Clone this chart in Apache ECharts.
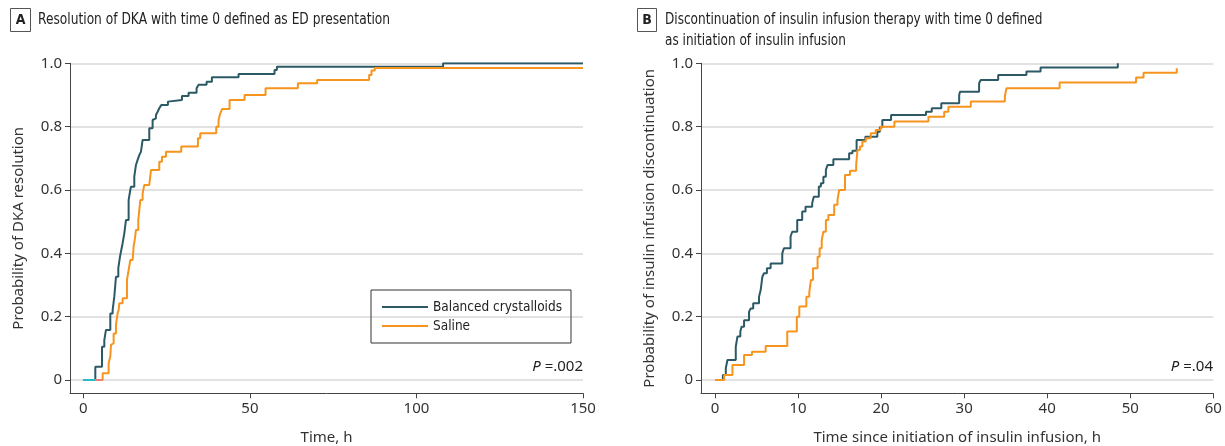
<!DOCTYPE html>
<html>
<head>
<meta charset="utf-8">
<script src="https://cdn.jsdelivr.net/npm/echarts@6/dist/echarts.min.js"></script>
<style>
  html, body { margin: 0; padding: 0; background: #fff; }
  #main { width: 1225px; height: 446px; }
</style>
</head>
<body>
<div id="main"></div>
<script>
// 数据 A: time 0 = ED presentation
var aBalT = [0, 3.6, 5.6, 6.3, 6.8, 8.1, 8.8, 9.3, 9.8, 10.5, 11.0, 11.5, 11.8, 12.3, 12.8, 13.6, 14.1, 14.3, 15.3, 15.8, 16.3, 16.8, 17.3, 17.8, 19.8, 20.8, 21.3, 21.8, 22.3, 22.8, 23.4, 25.4, 25.8, 29.6, 31.6, 34.0, 34.6, 37.0, 38.6, 46.6, 57.4, 58.1, 108, 150];
var aBalP = [0, 0.042, 0.105, 0.126, 0.158, 0.21, 0.221, 0.263, 0.326, 0.353, 0.389, 0.416, 0.432, 0.463, 0.505, 0.568, 0.6, 0.61, 0.642, 0.679, 0.695, 0.71, 0.721, 0.758, 0.795, 0.821, 0.826, 0.837, 0.847, 0.858, 0.868, 0.879, 0.884, 0.897, 0.907, 0.921, 0.932, 0.942, 0.956, 0.966, 0.979, 0.989, 1.0, 1.0];
var aSalT = [0, 5.8, 7.6, 8.1, 8.3, 8.8, 9.1, 9.8, 10.3, 10.6, 10.8, 11.8, 13.1, 13.6, 14.1, 14.8, 15.1, 15.5, 15.8, 16.5, 17.1, 17.8, 18.3, 19.8, 20.3, 22.8, 23.6, 24.8, 29.4, 34.4, 35.1, 39.9, 40.6, 41.1, 41.7, 43.9, 48.4, 54.7, 64.4, 70.2, 85.8, 86.5, 87.5, 150];
var aSalP = [0, 0.021, 0.053, 0.074, 0.111, 0.116, 0.147, 0.174, 0.211, 0.221, 0.242, 0.258, 0.316, 0.347, 0.379, 0.384, 0.421, 0.447, 0.474, 0.505, 0.568, 0.589, 0.616, 0.621, 0.663, 0.689, 0.705, 0.721, 0.737, 0.763, 0.779, 0.8, 0.821, 0.842, 0.856, 0.884, 0.9, 0.921, 0.937, 0.947, 0.963, 0.977, 0.985, 0.985];

// 数据 B: time 0 = initiation of insulin infusion
var bBalT = [0, 0.95, 1.3, 1.5, 2.5, 2.7, 3.05, 3.2, 3.5, 4.1, 4.3, 4.6, 5.3, 5.5, 5.7, 5.9, 6.25, 6.7, 8.1, 8.3, 9.1, 9.3, 9.9, 10.5, 10.9, 11.7, 11.9, 12.5, 12.75, 13.05, 13.35, 13.55, 14.25, 16.15, 16.55, 17.05, 18.1, 19.55, 19.85, 20.15, 21.2, 25.4, 26.1, 27.25, 29.4, 29.5, 31.8, 32.0, 34.1, 37.5, 39.2, 48.5];
var bBalP = [0, 0.016, 0.037, 0.063, 0.105, 0.137, 0.153, 0.168, 0.189, 0.216, 0.226, 0.242, 0.263, 0.284, 0.326, 0.337, 0.353, 0.368, 0.4, 0.416, 0.453, 0.468, 0.505, 0.532, 0.547, 0.558, 0.579, 0.611, 0.621, 0.642, 0.663, 0.679, 0.697, 0.716, 0.724, 0.758, 0.768, 0.784, 0.798, 0.821, 0.837, 0.847, 0.858, 0.874, 0.9, 0.91, 0.937, 0.947, 0.963, 0.974, 0.987, 1.0];
var bSalT = [0, 1.1, 2.1, 3.5, 4.45, 6.1, 8.7, 9.85, 10.15, 11.0, 11.35, 11.55, 11.8, 12.35, 12.6, 12.85, 13.05, 13.35, 13.65, 14.35, 14.75, 14.95, 15.65, 16.25, 17.0, 17.15, 17.45, 17.75, 18.15, 18.75, 19.35, 19.95, 21.6, 25.7, 27.6, 28.1, 30.8, 34.9, 35.1, 41.5, 50.7, 51.6, 55.6];
var bSalP = [0, 0.016, 0.047, 0.079, 0.089, 0.107, 0.153, 0.2, 0.232, 0.263, 0.276, 0.316, 0.353, 0.389, 0.416, 0.442, 0.468, 0.505, 0.521, 0.553, 0.568, 0.6, 0.647, 0.661, 0.679, 0.726, 0.737, 0.753, 0.763, 0.779, 0.789, 0.8, 0.816, 0.831, 0.847, 0.863, 0.879, 0.895, 0.921, 0.939, 0.955, 0.97, 0.984];

var yTicks = [0, 0.2, 0.4, 0.6, 0.8, 1.0];
var aXTicks = [0, 50, 100, 150];
var bXTicks = [0, 10, 20, 30, 40, 50, 60];

var names = ['Balanced crystalloids', 'Saline'];
var colBal = '#2b5965';
var colSal = '#f7941d';

var tickFont = 'Noto Sans';
var cond = '"DejaVu Sans Condensed"';

function zip(t, p) {
    var out = [];
    for (var i = 0; i < t.length; i++) out.push([t[i], p[i]]);
    return out;
}

function yLabel(v) {
    return v === 0 ? '0' : v.toFixed(1);
}

function xAxisOf(idx, min, max, ticks, name) {
    return {
        type: 'value', gridIndex: idx, min: min, max: max,
        name: name, nameLocation: 'middle', nameGap: 37,
        nameTextStyle: { fontFamily: tickFont, fontSize: 15, color: '#333' },
        axisLine: { show: true, onZero: false, lineStyle: { color: '#444', width: 1 } },
        axisTick: { show: true, customValues: ticks, length: 5, lineStyle: { color: '#444' } },
        axisLabel: { show: true, customValues: ticks, fontFamily: tickFont, fontSize: 15, color: '#333', margin: 8 },
        splitLine: { show: false }
    };
}

function yAxisOf(idx, name, gap) {
    return {
        type: 'value', gridIndex: idx, min: -0.042, max: 1,
        name: name, nameLocation: 'middle', nameGap: gap,
        nameTextStyle: { fontFamily: tickFont, fontSize: 15, color: '#333' },
        axisLine: { show: true, onZero: false, lineStyle: { color: '#444', width: 1 } },
        axisTick: { show: true, customValues: yTicks, length: 5, lineStyle: { color: '#444' } },
        axisLabel: { show: true, customValues: yTicks, fontFamily: tickFont, fontSize: 15, color: '#333', margin: 8, formatter: yLabel },
        splitLine: { show: true, lineStyle: { color: '#e2e2e2', width: 2 } }
    };
}

function km(name, idx, t, p, color) {
    return {
        name: name, type: 'line', step: 'end', xAxisIndex: idx, yAxisIndex: idx,
        data: zip(t, p), showSymbol: false, symbol: 'none',
        lineStyle: { color: color, width: 2 }, itemStyle: { color: color },
        z: 3, animation: false
    };
}

// 起始段（原图中颜色不同）
function startSeg(t0, t1, color) {
    return {
        name: 'start', type: 'line', xAxisIndex: 0, yAxisIndex: 0,
        data: [[t0, 0], [t1, 0]], showSymbol: false, symbol: 'none',
        lineStyle: { color: color, width: 2 }, z: 4, animation: false, silent: true
    };
}

var chart = echarts.init(document.getElementById('main'));

var option = {
    backgroundColor: '#fff',
    animation: false,
    grid: [
        { left: 70, right: 642, top: 63.3, bottom: 52.7, outerBoundsMode: 'none', containLabel: false },
        { left: 701, right: 11.7, top: 63.3, bottom: 52.7, outerBoundsMode: 'none', containLabel: false }
    ],
    xAxis: [
        xAxisOf(0, -4, 150, aXTicks, 'Time, h'),
        xAxisOf(1, -1.686, 60, bXTicks, 'Time since initiation of insulin infusion, h')
    ],
    yAxis: [
        yAxisOf(0, 'Probability of DKA resolution', 44),
        yAxisOf(1, 'Probability of insulin infusion discontinuation', 44)
    ],
    legend: {
        data: names,
        orient: 'vertical',
        left: 371, top: 290,
        padding: [10, 9, 10, 11],
        borderColor: '#333', borderWidth: 1, borderRadius: 0,
        itemWidth: 46, itemHeight: 2, itemGap: 5,
        icon: 'rect',
        textStyle: { fontFamily: cond, fontSize: 13.5, color: '#222' }
    },
    series: [
        km(names[0], 0, aBalT, aBalP, colBal),
        km(names[1], 0, aSalT, aSalP, colSal),
        startSeg(0, aBalT[1], '#25bcc4'),
        startSeg(aBalT[1], aSalT[1], '#f47c72'),
        km(names[0], 1, bBalT, bBalP, colBal),
        km(names[1], 1, bSalT, bSalP, colSal)
    ],
    graphic: [
        { type: 'rect', shape: { x: 10.5, y: 8.5, width: 20, height: 23 }, style: { fill: '#fff', stroke: '#555', lineWidth: 1 } },
        { type: 'text', x: 20.5, y: 20, style: { text: 'A', align: 'center', verticalAlign: 'middle', font: 'bold 14px ' + cond, fill: '#222' } },
        { type: 'text', x: 38, y: 20, scaleX: 0.85, style: { text: 'Resolution of DKA with time 0 defined as ED presentation', verticalAlign: 'middle', font: '16px ' + cond, fill: '#222' } },
        { type: 'rect', shape: { x: 637.5, y: 8.5, width: 19, height: 23 }, style: { fill: '#fff', stroke: '#555', lineWidth: 1 } },
        { type: 'text', x: 647, y: 20, style: { text: 'B', align: 'center', verticalAlign: 'middle', font: 'bold 14px ' + cond, fill: '#222' } },
        { type: 'text', x: 665, y: 9.5, scaleX: 0.84, style: { text: 'Discontinuation of insulin infusion therapy with time 0 defined\nas initiation of insulin infusion', lineHeight: 21, verticalAlign: 'top', font: '16px ' + cond, fill: '#222' } },
        { type: 'text', x: 583, y: 367, style: { text: '{i|P} =.002', align: 'right', verticalAlign: 'middle', font: '15px ' + tickFont, fill: '#222', rich: { i: { fontStyle: 'italic', fontFamily: tickFont, fontSize: 15 } } } },
        { type: 'text', x: 1213, y: 367, style: { text: '{i|P} =.04', align: 'right', verticalAlign: 'middle', font: '15px ' + tickFont, fill: '#222', rich: { i: { fontStyle: 'italic', fontFamily: tickFont, fontSize: 15 } } } }
    ]
};

chart.setOption(option);
</script>
</body>
</html>
